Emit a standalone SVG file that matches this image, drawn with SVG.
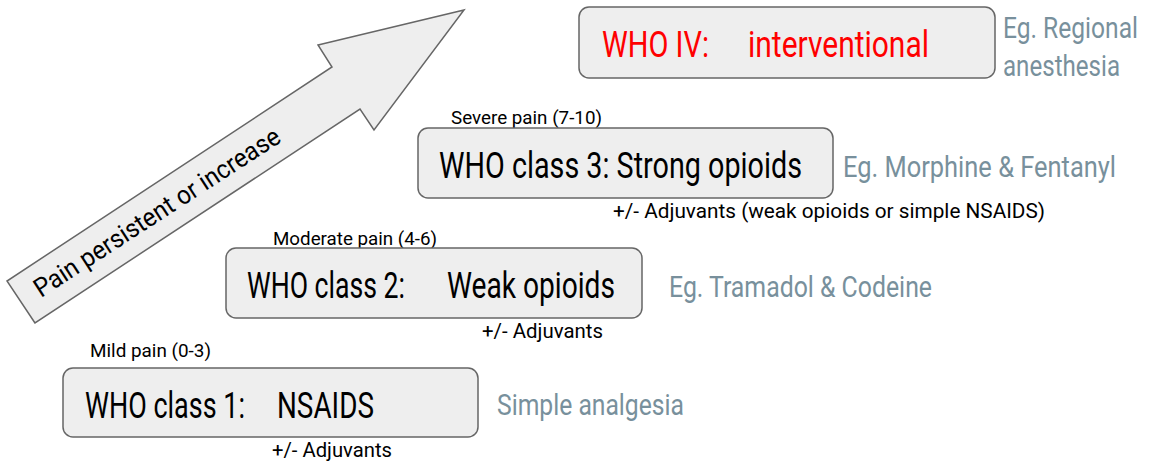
<svg xmlns="http://www.w3.org/2000/svg" width="1149" height="462" viewBox="0 0 1149 462">
<style>
text{font-family:Roboto,"Liberation Sans",sans-serif;}
.box{fill:#eeeeee;stroke:#666666;stroke-width:1.5;}
.main{font-size:36px;fill:#000;}
.red{fill:#ff0000;}
.small{font-size:18px;fill:#000;}
.adj{font-size:21px;fill:#000;}
.gray{font-size:29px;fill:#78909c;}
</style>
<rect width="1149" height="462" fill="#ffffff"/>
<g id="connectors">
<g id="arrow">
<polygon points="35,323 7,281 332,67 318,45 464,10 374,130 360,109" fill="#eeeeee" stroke="#666666" stroke-width="1.5" stroke-linejoin="miter"/>
<text transform="translate(41,298) rotate(-33)" font-size="26" textLength="288" lengthAdjust="spacingAndGlyphs">Pain persistent or increase</text>
</g>
</g>
<g id="who4">
<rect class="box" x="579" y="7" width="416" height="71" rx="10"/>
<text class="main red" x="602" y="57" textLength="107" lengthAdjust="spacingAndGlyphs">WHO IV:</text>
<text class="main red" x="748" y="57" textLength="181" lengthAdjust="spacingAndGlyphs">interventional</text>
<text class="gray" x="1003" y="38" textLength="135" lengthAdjust="spacingAndGlyphs">Eg. Regional</text>
<text class="gray" x="1003" y="76" textLength="117" lengthAdjust="spacingAndGlyphs">anesthesia</text>
</g>
<g id="who3">
<text class="small" x="451" y="124" textLength="151" lengthAdjust="spacingAndGlyphs">Severe pain (7-10)</text>
<rect class="box" x="418" y="128" width="415" height="70" rx="10"/>
<text class="main" x="439" y="178" textLength="363" lengthAdjust="spacingAndGlyphs">WHO class 3: Strong opioids</text>
<text class="gray" x="843" y="177" textLength="273" lengthAdjust="spacingAndGlyphs">Eg. Morphine &amp; Fentanyl</text>
<text class="adj" x="613" y="218" textLength="432" lengthAdjust="spacingAndGlyphs">+/- Adjuvants (weak opioids or simple NSAIDS)</text>
</g>
<g id="who2">
<text class="small" x="273" y="245" textLength="164" lengthAdjust="spacingAndGlyphs">Moderate pain (4-6)</text>
<rect class="box" x="226" y="248" width="416" height="70" rx="10"/>
<text class="main" x="247" y="298" textLength="158" lengthAdjust="spacingAndGlyphs">WHO class 2:</text>
<text class="main" x="447" y="298" textLength="168" lengthAdjust="spacingAndGlyphs">Weak opioids</text>
<text class="gray" x="669" y="297" textLength="263" lengthAdjust="spacingAndGlyphs">Eg. Tramadol &amp; Codeine</text>
<text class="adj" x="482" y="338" textLength="121" lengthAdjust="spacingAndGlyphs">+/- Adjuvants</text>
</g>
<g id="who1">
<text class="small" x="90" y="357" textLength="121" lengthAdjust="spacingAndGlyphs">Mild pain (0-3)</text>
<rect class="box" x="63" y="368" width="415" height="69" rx="10"/>
<text class="main" x="85" y="418" textLength="160" lengthAdjust="spacingAndGlyphs">WHO class 1:</text>
<text class="main" x="277" y="418" textLength="97" lengthAdjust="spacingAndGlyphs">NSAIDS</text>
<text class="gray" x="497" y="415" textLength="187" lengthAdjust="spacingAndGlyphs">Simple analgesia</text>
<text class="adj" x="272" y="457" textLength="120" lengthAdjust="spacingAndGlyphs">+/- Adjuvants</text>
</g>
</svg>
